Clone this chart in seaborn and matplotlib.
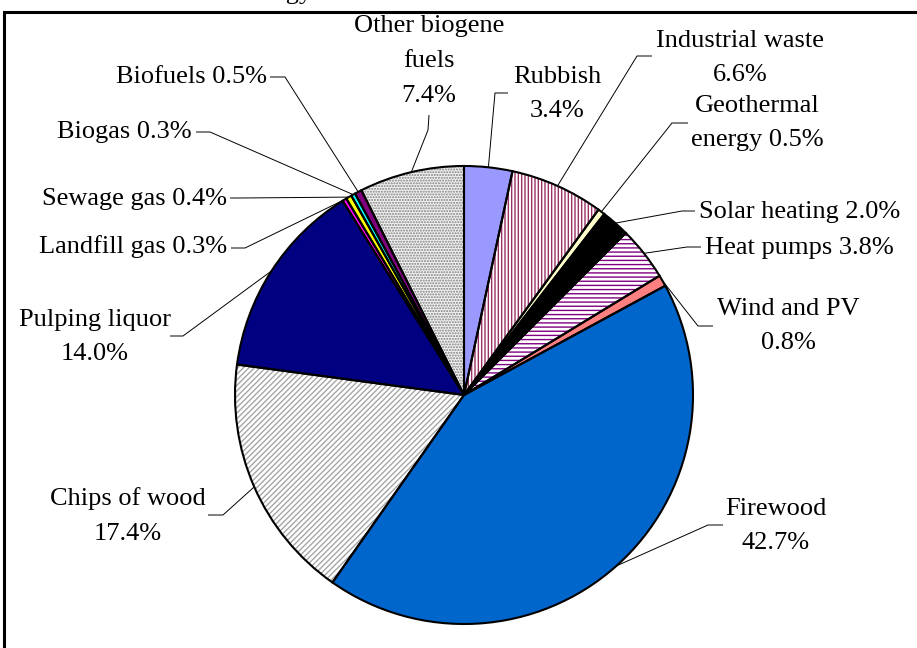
import numpy as np
import matplotlib
matplotlib.use("Agg")
import matplotlib.pyplot as plt
import seaborn as sns
from matplotlib.patches import Rectangle

# Shares of renewable energy sources (percent), clockwise from 12 o'clock
sources = ["Rubbish", "Industrial waste", "Geothermal energy", "Solar heating",
           "Heat pumps", "Wind and PV", "Firewood", "Chips of wood",
           "Pulping liquor", "Landfill gas", "Sewage gas", "Biogas",
           "Biofuels", "Other biogene fuels"]
shares = [3.4, 6.6, 0.5, 2.0, 3.8, 0.8, 42.7, 17.4, 14.0, 0.3, 0.4, 0.3, 0.5, 7.4]
label_texts = ["Rubbish\n3.4%", "Industrial waste\n6.6%", "Geothermal\nenergy 0.5%",
               "Solar heating 2.0%", "Heat pumps 3.8%", "Wind and PV\n0.8%",
               "Firewood\n42.7%", "Chips of wood\n17.4%", "Pulping liquor\n14.0%",
               "Landfill gas 0.3%", "Sewage gas 0.4%", "Biogas 0.3%",
               "Biofuels 0.5%", "Other biogene\nfuels\n7.4%"]

# Fill styles (Excel 2003 palette)
face_colors = ["#9999FF", "#FFFFFF", "#FFFFCC", "#000000", "#FFFFFF", "#FF8080",
               "#0066CC", "#FFFFFF", "#000080", "#FF00FF", "#FFFF00", "#00FFFF",
               "#800080", "#F2F2F2"]
hatches = [None, "|||||", None, None, "----", None, None, "//////", None,
           None, None, None, None, "......"]
hatch_colors = [None, "#993366", None, None, "#800080", None, None, "#A6A6A6",
                None, None, None, None, None, "#7F7F7F"]

W, H = 917, 648
CENTER = (464, 395)   # pixel coords of the pie centre
RADIUS = 229

# label placement in pixel coords: (x, y, ha), leader start and knee
label_layout = {
    "Rubbish": ((557, 94, "center"), (508, 93), (495, 93)),
    "Industrial waste": ((740, 58, "center"), (652, 56), (637, 56)),
    "Geothermal energy": ((757, 123, "center"), (688, 123), (672, 123)),
    "Solar heating": ((699, 212, "left"), (695, 211), (682, 211)),
    "Heat pumps": ((705, 248, "left"), (701, 247), (687, 247)),
    "Wind and PV": ((788, 326, "center"), (713, 326), (698, 326)),
    "Firewood": ((776, 526, "center"), (723, 525), (708, 525)),
    "Chips of wood": ((128, 516, "center"), (208, 515), (223, 515)),
    "Pulping liquor": ((95, 337, "center"), (170, 336), (183, 336)),
    "Landfill gas": ((227, 247, "right"), (231, 248), (245, 248)),
    "Sewage gas": ((227, 199, "right"), (230, 198), (240, 198)),
    "Biogas": ((192, 132, "right"), (196, 132), (210, 132)),
    "Biofuels": ((267, 77, "right"), (270, 77), (285, 77)),
    "Other biogene fuels": ((429, 61, "center"), (429, 115), (428, 130)),
}


def px(x, y):
    # convert pixel coords (y down) to data coords (y up)
    return x, H - y


sns.set_style("white")
plt.rcParams["font.family"] = ["Liberation Serif", "DejaVu Serif"]
plt.rcParams["hatch.linewidth"] = 1.0

fig = plt.figure(figsize=(W / 100, H / 100), dpi=100)
ax = fig.add_axes([0, 0, 1, 1])

center = px(*CENTER)

# Filled wedges (hatch colour follows the edge colour, so no outline here)
wedges, _ = ax.pie(shares, startangle=90, counterclock=False, center=center,
                   radius=RADIUS, colors=face_colors,
                   wedgeprops=dict(linewidth=0))
for w, h, hc in zip(wedges, hatches, hatch_colors):
    if h:
        w.set_hatch(h)
        w.set_edgecolor(hc)
        w.set_linewidth(0)

# Black outlines on top
outline, _ = ax.pie(shares, startangle=90, counterclock=False, center=center,
                    radius=RADIUS, colors=["none"] * len(shares),
                    wedgeprops=dict(linewidth=1.5, edgecolor="black"))

# Labels with leader lines
for w, name, txt in zip(wedges, sources, label_texts):
    (tx, ty, ha), start, knee = label_layout[name]
    mid = np.deg2rad((w.theta1 + w.theta2) / 2)
    anchor = (center[0] + RADIUS * np.cos(mid), center[1] + RADIUS * np.sin(mid))
    xs = [px(*start)[0], px(*knee)[0], anchor[0]]
    ys = [px(*start)[1], px(*knee)[1], anchor[1]]
    ax.plot(xs, ys, color="black", linewidth=0.7, solid_capstyle="butt")
    ax.text(*px(tx, ty), txt, ha=ha, va="center", multialignment="center",
            fontsize=19, linespacing=1.75, color="black")

# Chart area frame (extends past right / bottom edge)
ax.add_patch(Rectangle(px(4, 700), 960, 688, facecolor="none",
                       edgecolor="black", linewidth=2.2))

# Title, cut off above the frame (only the descenders show)
ax.text(*px(312, -1.5), "Renewable energy", ha="right", va="baseline",
        fontsize=19, color="black")

ax.set_xlim(0, W)
ax.set_ylim(0, H)
ax.set_aspect("equal")
ax.axis("off")

fig.savefig("out.png", dpi=100)
